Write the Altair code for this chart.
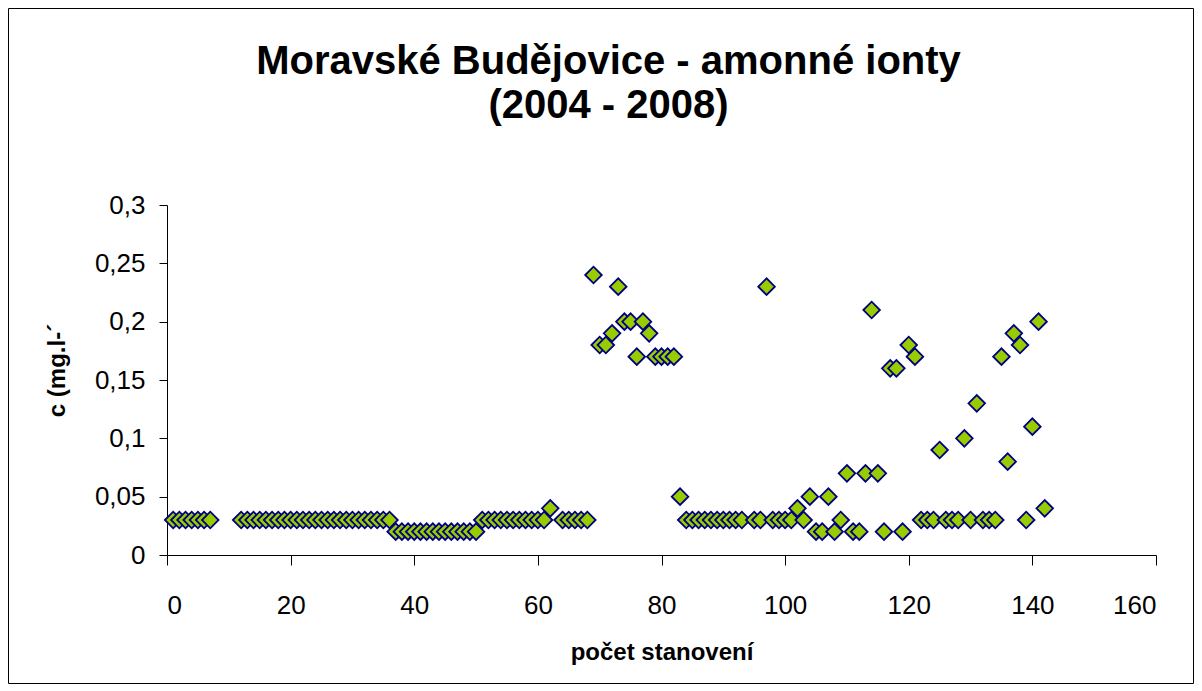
import altair as alt
import pandas as pd

title_lines = ["Moravské Budějovice - amonné ionty", "(2004 - 2008)"]
x_title = "počet stanovení"
y_title = "c (mg.l-´"

x_ticks = [0, 20, 40, 60, 80, 100, 120, 140, 160]
y_ticks = [0, 0.05, 0.1, 0.15, 0.2, 0.25, 0.3]

n = [1, 2, 3, 4, 5, 6, 7,
     12, 13, 14, 15, 16, 17, 18, 19, 20, 21, 22, 23, 24, 25, 26, 27, 28, 29, 30,
     31, 32, 33, 34, 35, 36,
     37, 38, 39, 40, 41, 42, 43, 44, 45, 46, 47, 48, 49, 50,
     51, 52, 53, 54, 55, 56, 57, 58, 59, 60, 61, 62,
     64, 65, 66, 67, 68,
     69, 70, 71, 72, 73, 74, 75, 76, 77, 78, 79, 80, 81, 82,
     83, 84, 85, 86, 87, 88, 89, 90, 91, 92, 93, 95, 96, 97,
     98, 99, 100, 101, 102, 103, 104, 105, 106, 107, 108, 109, 110,
     111, 112, 113, 114, 115, 116, 117, 118, 119, 120,
     121, 122, 123, 124, 125, 126, 127, 128, 129, 130,
     131, 132, 133, 134, 135, 136, 137, 138, 139, 140, 141, 142]

c = [0.03, 0.03, 0.03, 0.03, 0.03, 0.03, 0.03,
     0.03, 0.03, 0.03, 0.03, 0.03, 0.03, 0.03, 0.03, 0.03, 0.03, 0.03, 0.03, 0.03, 0.03, 0.03, 0.03, 0.03, 0.03, 0.03,
     0.03, 0.03, 0.03, 0.03, 0.03, 0.03,
     0.02, 0.02, 0.02, 0.02, 0.02, 0.02, 0.02, 0.02, 0.02, 0.02, 0.02, 0.02, 0.02, 0.02,
     0.03, 0.03, 0.03, 0.03, 0.03, 0.03, 0.03, 0.03, 0.03, 0.03, 0.03, 0.04,
     0.03, 0.03, 0.03, 0.03, 0.03,
     0.24, 0.18, 0.18, 0.19, 0.23, 0.20, 0.20, 0.17, 0.20, 0.19, 0.17, 0.17, 0.17, 0.17,
     0.05, 0.03, 0.03, 0.03, 0.03, 0.03, 0.03, 0.03, 0.03, 0.03, 0.03, 0.03, 0.03, 0.23,
     0.03, 0.03, 0.03, 0.03, 0.04, 0.03, 0.05, 0.02, 0.02, 0.05, 0.02, 0.03, 0.07,
     0.02, 0.02, 0.07, 0.21, 0.07, 0.02, 0.16, 0.16, 0.02, 0.18,
     0.17, 0.03, 0.03, 0.03, 0.09, 0.03, 0.03, 0.03, 0.10, 0.03,
     0.13, 0.03, 0.03, 0.03, 0.17, 0.08, 0.19, 0.18, 0.03, 0.11, 0.20, 0.04]

df = pd.DataFrame({"n": n, "c": c})

FONT = "Liberation Sans"

points = alt.Chart(df).mark_point(
    shape="diamond", filled=True, fill="#99CC00", stroke="#000080",
    strokeWidth=1.8, size=275, opacity=1
).encode(
    x=alt.X("n:Q", scale=alt.Scale(domain=[0, 160], nice=False, zero=True),
            axis=alt.Axis(values=x_ticks, title=x_title, grid=False,
                          tickSize=10, labelPadding=40, labelBaseline="middle",
                          titleY=97, titleBaseline="middle")),
    y=alt.Y("c:Q", scale=alt.Scale(domain=[0, 0.3], nice=False),
            axis=alt.Axis(values=y_ticks, title=y_title, grid=False,
                          format=".2~f", labelExpr="replace(datum.label, '.', ',')",
                          tickSize=8, labelPadding=14,
                          titleX=-110, titleY=165, titleAngle=270,
                          titleAlign="center", titleBaseline="middle")),
)

frame = alt.Chart(alt.Data(values=[{"k": 1}])).mark_rect(
    fill="white", fillOpacity=0, stroke="black", strokeWidth=1
).encode(
    x=alt.value(-158.5), x2=alt.value(1026.5),
    y=alt.value(-196.5), y2=alt.value(478.5)
)

chart = alt.layer(frame, points).properties(
    width=989, height=350,
    padding={"left": 159, "top": 197, "right": 38, "bottom": 129},
    autosize=alt.AutoSizeParams(type="none"),
    background="white",
    title=alt.TitleParams(text=title_lines, font=FONT, fontSize=40, fontWeight="bold",
                          color="black", anchor="middle", dx=-53, offset=-118,
                          lineHeight=44),
).configure_view(stroke=None).configure_axis(
    labelFont=FONT, labelFontSize=26, labelColor="black",
    titleFont=FONT, titleFontSize=24, titleFontWeight="bold", titleColor="black",
    domainColor="black", tickColor="black", domainWidth=1, tickWidth=1
)

chart.save("out.html", embed_options={"renderer": "svg", "actions": False})
